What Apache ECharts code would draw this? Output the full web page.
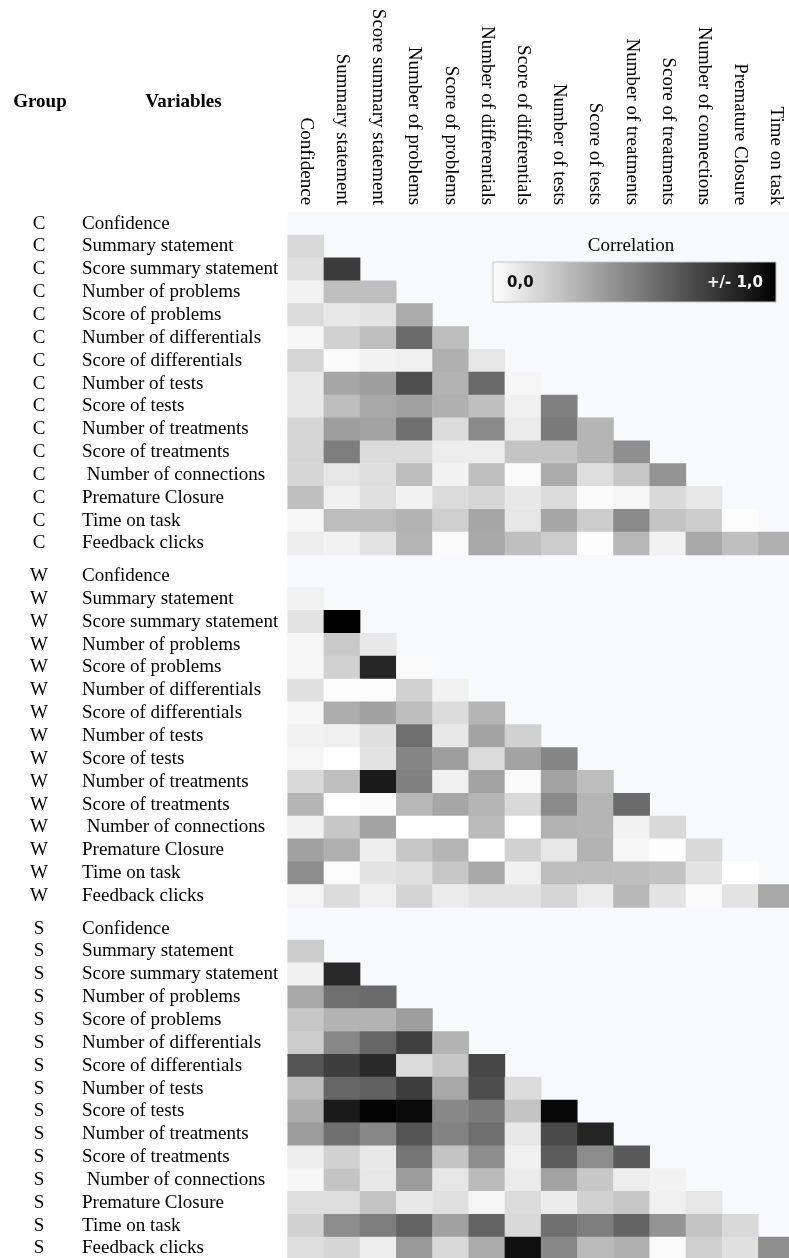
<!DOCTYPE html>
<html>
<head>
<meta charset="utf-8">
<script src="https://cdn.jsdelivr.net/npm/echarts@6/dist/echarts.min.js"></script>
<style>
html,body{margin:0;padding:0;background:#fff;}
#chart{width:789px;height:1258px;}
</style>
</head>
<body>
<div id="chart"></div>
<script>
// ---- data ----
const columns = ['Confidence','Summary statement','Score summary statement','Number of problems','Score of problems','Number of differentials','Score of differentials','Number of tests','Score of tests','Number of treatments','Score of treatments','Number of connections','Premature Closure','Time on task'];
const rowVars = ['Confidence','Summary statement','Score summary statement','Number of problems','Score of problems','Number of differentials','Score of differentials','Number of tests','Score of tests','Number of treatments','Score of treatments',' Number of connections','Premature Closure','Time on task','Feedback clicks'];
const groups = ['C','W','S'];

// absolute correlation (0 = none, 1 = perfect), lower triangle, row by row
const corrC = [
  [],
  [0.15],
  [0.12,0.77],
  [0.05,0.25,0.25],
  [0.14,0.09,0.11,0.33],
  [0.03,0.18,0.25,0.58,0.26],
  [0.16,0.02,0.05,0.06,0.31,0.10],
  [0.09,0.35,0.38,0.69,0.30,0.59,0.04],
  [0.09,0.26,0.34,0.37,0.31,0.25,0.06,0.50],
  [0.16,0.38,0.36,0.56,0.14,0.46,0.08,0.52,0.29],
  [0.16,0.51,0.14,0.14,0.07,0.07,0.23,0.23,0.29,0.44],
  [0.16,0.10,0.13,0.26,0.05,0.25,0.02,0.33,0.13,0.22,0.42],
  [0.25,0.06,0.12,0.05,0.14,0.16,0.09,0.14,0.02,0.035,0.15,0.10],
  [0.03,0.26,0.26,0.30,0.19,0.35,0.10,0.35,0.20,0.46,0.23,0.20,0.01],
  [0.07,0.05,0.11,0.29,0.02,0.34,0.25,0.20,0.01,0.28,0.05,0.34,0.25,0.31]
];
const corrW = [
  [],
  [0.05],
  [0.11,1.00],
  [0.04,0.21,0.09],
  [0.035,0.18,0.85,0.02],
  [0.12,0.01,0.01,0.18,0.05],
  [0.03,0.32,0.37,0.26,0.14,0.29],
  [0.05,0.06,0.13,0.57,0.09,0.36,0.18],
  [0.04,0.00,0.11,0.48,0.38,0.14,0.36,0.48],
  [0.15,0.25,0.90,0.50,0.06,0.36,0.02,0.36,0.26],
  [0.29,0.00,0.015,0.28,0.35,0.29,0.15,0.46,0.29,0.58],
  [0.05,0.22,0.36,0.00,0.00,0.27,0.00,0.30,0.29,0.05,0.15],
  [0.37,0.31,0.07,0.22,0.29,0.00,0.18,0.10,0.30,0.03,0.01,0.15],
  [0.45,0.01,0.11,0.12,0.22,0.34,0.06,0.26,0.26,0.26,0.24,0.11,0.00],
  [0.04,0.14,0.06,0.17,0.08,0.11,0.11,0.16,0.08,0.28,0.11,0.02,0.11,0.34]
];
const corrS = [
  [],
  [0.20],
  [0.06,0.84],
  [0.34,0.56,0.58],
  [0.22,0.30,0.30,0.38],
  [0.20,0.47,0.60,0.75,0.30],
  [0.67,0.76,0.84,0.14,0.22,0.72],
  [0.26,0.60,0.62,0.76,0.34,0.70,0.14],
  [0.32,0.90,0.99,0.96,0.47,0.52,0.23,0.97],
  [0.39,0.56,0.47,0.67,0.49,0.57,0.09,0.71,0.86],
  [0.07,0.18,0.09,0.54,0.23,0.45,0.06,0.64,0.45,0.65],
  [0.03,0.23,0.09,0.39,0.10,0.27,0.08,0.36,0.22,0.07,0.05],
  [0.13,0.13,0.23,0.09,0.12,0.04,0.14,0.08,0.18,0.22,0.06,0.10],
  [0.18,0.45,0.51,0.61,0.37,0.61,0.15,0.56,0.51,0.61,0.42,0.23,0.15],
  [0.13,0.16,0.07,0.40,0.15,0.33,0.94,0.47,0.27,0.31,0.02,0.19,0.12,0.44]
];
const legendTitle = 'Correlation';
const legendLow = '0,0';
const legendHigh = '+/- 1,0';

// ---- layout ----
const serif = 'Liberation Serif, Times New Roman, serif';
const gridLeft = 287.7;
const cellW = 36.2;
const rowH = 22.85;
const blockTops = [212.15, 564.65, 917.15];
const blockH = rowH * rowVars.length;

const matrices = [corrC, corrW, corrS];

function toData(m) {
  const out = [];
  m.forEach((row, r) => row.forEach((v, c) => out.push([c, r, v])));
  return out;
}

const grids = [], xAxes = [], yAxes = [], series = [];
groups.forEach((g, i) => {
  grids.push({left: gridLeft, top: blockTops[i], width: cellW * columns.length, height: blockH,
    containLabel: false, outerBoundsMode: 'none'});
  xAxes.push({
    type: 'category', gridIndex: i, data: columns, position: 'top',
    show: i === 0,
    axisLine: {show: false}, axisTick: {show: false}, splitLine: {show: false},
    axisLabel: {interval: 0, rotate: 90, margin: 7, fontFamily: serif, fontSize: 19, color: '#000', hideOverlap: false}
  });
  // variable names
  yAxes.push({
    type: 'category', gridIndex: i, data: rowVars, inverse: true, position: 'left', offset: 0,
    axisLine: {show: false}, axisTick: {show: false}, splitLine: {show: false},
    axisLabel: {interval: 0, align: 'left', margin: gridLeft - 82, fontFamily: serif, fontSize: 19, color: '#000'}
  });
  // group letters
  yAxes.push({
    type: 'category', gridIndex: i, data: rowVars, inverse: true, position: 'left', offset: 0,
    axisLine: {show: false}, axisTick: {show: false}, splitLine: {show: false},
    axisLabel: {interval: 0, align: 'center', margin: gridLeft - 39, fontFamily: serif, fontSize: 19, color: '#000',
      formatter: () => g}
  });
  series.push({
    type: 'heatmap', xAxisIndex: i, yAxisIndex: i * 2,
    data: toData(matrices[i]),
    itemStyle: {borderWidth: 0},
    emphasis: {disabled: true}
  });
});

const chart = echarts.init(document.getElementById('chart'), null, {renderer: 'canvas'});
chart.setOption({
  animation: false,
  backgroundColor: '#ffffff',
  grid: grids,
  xAxis: xAxes,
  yAxis: yAxes,
  visualMap: {
    type: 'continuous', show: false, min: 0, max: 1, seriesIndex: [0, 1, 2],
    inRange: {color: ['#ffffff', '#000000']}
  },
  series: series,
  graphic: [
    {type: 'rect', z: -10, silent: true,
      shape: {x: gridLeft, y: blockTops[0], width: 789 - gridLeft, height: 1258 - blockTops[0]},
      style: {fill: '#f8f9fd'}},
    {type: 'text', z: 100, x: 40, y: 102,
      style: {text: 'Group', font: 'bold 19px ' + serif, fill: '#000', textAlign: 'center', textVerticalAlign: 'middle'}},
    {type: 'text', z: 100, x: 183.5, y: 102,
      style: {text: 'Variables', font: 'bold 19px ' + serif, fill: '#000', textAlign: 'center', textVerticalAlign: 'middle'}},
    {type: 'text', z: 100, x: 631, y: 246,
      style: {text: legendTitle, font: '19px ' + serif, fill: '#000', textAlign: 'center', textVerticalAlign: 'middle'}},
    {type: 'rect', z: 100,
      shape: {x: 493, y: 262, width: 283, height: 40},
      style: {
        fill: new echarts.graphic.LinearGradient(0, 0, 1, 0, [{offset: 0, color: '#ffffff'}, {offset: 1, color: '#000000'}]),
        stroke: '#c4c4c4', lineWidth: 1
      }},
    {type: 'text', z: 101, x: 507, y: 283,
      style: {text: legendLow, font: 'bold 15px DejaVu Sans', fill: '#111', textAlign: 'left', textVerticalAlign: 'middle'}},
    {type: 'text', z: 101, x: 763, y: 283,
      style: {text: legendHigh, font: 'bold 15px DejaVu Sans', fill: '#fff', textAlign: 'right', textVerticalAlign: 'middle'}}
  ]
});
</script>
</body>
</html>
